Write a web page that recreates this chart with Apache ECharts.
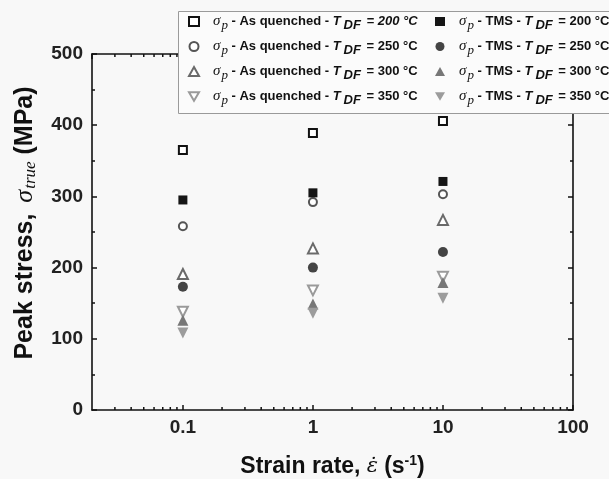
<!DOCTYPE html>
<html><head><meta charset="utf-8">
<script src="https://cdn.jsdelivr.net/npm/echarts@6/dist/echarts.min.js"></script>
<style>html,body{margin:0;padding:0;background:#f8f8f8}#c{width:609px;height:479px}</style>
</head><body><div id="c"></div>
<script>
const strainRates = [0.1, 1, 10];
const aq200 = [365, 389, 406];
const aq250 = [258, 292, 303];
const aq300 = [191, 227, 267];
const aq350 = [138, 168, 187];
const tms200 = [295, 305, 321];
const tms250 = [173, 200, 222];
const tms300 = [126, 149, 179];
const tms350 = [108, 136, 157];
const xMajorTicks = [0.1, 1, 10, 100];
const xMinorTicks = [0.03,0.04,0.05,0.06,0.07,0.08,0.09,0.2,0.3,0.4,0.5,0.6,0.7,0.8,0.9,2,3,4,5,6,7,8,9,20,30,40,50,60,70,80,90];
const yTicks = [0, 100, 200, 300, 400, 500];

const SANS = 'Liberation Sans';
const SERIF = 'Liberation Serif';
const DOWN_TRI = 'path://M0,0 L10,0 L5,8.66 Z';

const legendText = {
  'AQ200': '{s|σ}{sub|p}{n| - As quenched - }{i|T}{isub|DF}{i| = 200 °C}',
  'AQ250': '{s|σ}{sub|p}{n| - As quenched - }{i|T}{isub|DF}{n| = 250 °C}',
  'AQ300': '{s|σ}{sub|p}{n| - As quenched - }{i|T}{isub|DF}{n| = 300 °C}',
  'AQ350': '{s|σ}{sub|p}{n| - As quenched - }{i|T}{isub|DF}{n| = 350 °C}',
  'TMS200': '{s|σ}{sub|p}{n| - TMS - }{i|T}{isub|DF}{n| = 200 °C}',
  'TMS250': '{s|σ}{sub|p}{n| - TMS - }{i|T}{isub|DF}{n| = 250 °C}',
  'TMS300': '{s|σ}{sub|p}{n| - TMS - }{i|T}{isub|DF}{n| = 300 °C}',
  'TMS350': '{s|σ}{sub|p}{n| - TMS - }{i|T}{isub|DF}{n| = 350 °C}'
};
const legendRich = {
  s: {fontFamily: SERIF, fontStyle: 'italic', fontSize: 15, color: '#111', padding: [0, 0, 0, 9]},
  sub: {fontFamily: SERIF, fontStyle: 'italic', fontSize: 13, color: '#111', padding: [8, 0, 0, 1]},
  n: {fontFamily: SANS, fontWeight: 'bold', fontSize: 13, color: '#111'},
  i: {fontFamily: SANS, fontWeight: 'bold', fontStyle: 'italic', fontSize: 13, color: '#111'},
  isub: {fontFamily: SANS, fontWeight: 'bold', fontStyle: 'italic', fontSize: 13, color: '#111', padding: [8, 2, 0, 3]}
};

function pts(arr) { return strainRates.map((r, i) => [r, arr[i]]); }

function scatter(name, arr, symbol, size, fill, stroke) {
  return {
    name: name, type: 'scatter', data: pts(arr), symbol: symbol, symbolSize: size,
    itemStyle: {color: fill, borderColor: stroke, borderWidth: fill === '#ffffff' ? 2 : 0, opacity: 1},
    z: 5
  };
}

const chart = echarts.init(document.getElementById('c'), null, {renderer: 'canvas'});
const axisLine = {show: true, onZero: false, lineStyle: {color: '#111', width: 1.6}};
const tick = {show: true, inside: true, length: 5, lineStyle: {color: '#111', width: 1.5}};
const legendCommon = {
  orient: 'vertical', top: 14, z: 11, padding: 0,
  itemWidth: 10, itemHeight: 9, itemGap: 7,
  formatter: n => legendText[n],
  textStyle: {rich: legendRich}
};
const option = {
  backgroundColor: '#f8f8f8',
  animation: false,
  grid: {left: 92, right: 36, top: 54, bottom: 69, outerBoundsMode: 'none', containLabel: false},
  xAxis: [{
    type: 'log', logBase: 10, min: 0.02, max: 100, position: 'bottom',
    axisLine: axisLine, axisTick: tick,
    axisLabel: {showMinLabel: false, fontFamily: SANS, fontWeight: 'bold', fontSize: 19, color: '#222', margin: 8,
      formatter: v => (xMajorTicks.some(t => Math.abs(t - v) < 1e-9) ? String(v) : '')},
    splitLine: {show: false},
    name: '{n|Strain rate, }{e|ε̇}{n|(s}{sup|-1}{n|)}',
    nameLocation: 'middle', nameGap: 44,
    nameTextStyle: {rich: {
      n: {fontFamily: SANS, fontWeight: 'bold', fontSize: 23, color: '#111'},
      e: {fontFamily: 'DejaVu Serif', fontStyle: 'italic', fontSize: 21, color: '#111', padding: [0, 6, 0, 0]},
      sup: {fontFamily: SANS, fontWeight: 'bold', fontSize: 14, color: '#111', padding: [0, 0, 11, 0]}
    }}
  }, {
    type: 'log', logBase: 10, min: 0.02, max: 100, position: 'top',
    axisLine: axisLine, axisTick: tick,
    axisLabel: {show: false}, splitLine: {show: false}
  }],
  yAxis: [{
    type: 'value', min: 0, max: 500, interval: 100, position: 'left',
    axisLine: axisLine, axisTick: tick,
    minorTick: {show: true, splitNumber: 2, length: 3, lineStyle: {color: '#111', width: 1.5}},
    axisLabel: {fontFamily: SANS, fontWeight: 'bold', fontSize: 19, color: '#222', margin: 9},
    splitLine: {show: false},
    name: '{n|Peak stress, }{s|σ}{sub|true}{n| (MPa)}',
    nameLocation: 'middle', nameRotate: 90, nameGap: 53,
    nameTextStyle: {padding: [0, 0, 0, 18], rich: {
      n: {fontFamily: SANS, fontWeight: 'bold', fontSize: 25, color: '#111'},
      s: {fontFamily: SERIF, fontStyle: 'italic', fontSize: 26, color: '#111', padding: [0, 1, 0, 4]},
      sub: {fontFamily: SERIF, fontStyle: 'italic', fontSize: 17, color: '#111', padding: [11, 0, 0, 0]}
    }}
  }, {
    type: 'value', min: 0, max: 500, interval: 100, position: 'right',
    axisLine: axisLine, axisTick: tick,
    minorTick: {show: true, splitNumber: 2, length: 3, lineStyle: {color: '#111', width: 1.5}},
    axisLabel: {show: false}, splitLine: {show: false}
  }],
  graphic: [{
    type: 'rect', z: 10, left: 178, top: 11,
    shape: {width: 460, height: 102},
    style: {fill: '#fbfbfb', stroke: '#9a9a9a', lineWidth: 1}
  }],
  legend: [Object.assign({}, legendCommon, {
    left: 188,
    data: ['AQ200', 'AQ250', 'AQ300', 'AQ350']
  }), Object.assign({}, legendCommon, {
    left: 435,
    data: ['TMS200', 'TMS250', 'TMS300', 'TMS350']
  })],
  series: [
    scatter('AQ200', aq200, 'rect', 8, '#ffffff', '#111111'),
    scatter('AQ250', aq250, 'circle', 8, '#ffffff', '#555555'),
    scatter('AQ300', aq300, 'triangle', 10, '#ffffff', '#6a6a6a'),
    scatter('AQ350', aq350, DOWN_TRI, 10, '#ffffff', '#9a9a9a'),
    scatter('TMS200', tms200, 'rect', 9, '#151515'),
    scatter('TMS250', tms250, 'circle', 10, '#444444'),
    scatter('TMS300', tms300, 'triangle', 11, '#777777'),
    scatter('TMS350', tms350, DOWN_TRI, 11, '#9c9c9c'),
    {
      type: 'custom', name: 'minorTicks', silent: true, clip: false, z: 3,
      data: xMinorTicks.map(v => [v]),
      encode: {x: 0},
      renderItem: function (params, api) {
        const v = api.value(0);
        const b = api.coord([v, yTicks[0]]);
        const t = api.coord([v, yTicks[yTicks.length - 1]]);
        const st = {stroke: '#111', lineWidth: 1.5};
        return {type: 'group', children: [
          {type: 'line', shape: {x1: b[0], y1: b[1], x2: b[0], y2: b[1] - 3}, style: st},
          {type: 'line', shape: {x1: t[0], y1: t[1], x2: t[0], y2: t[1] + 3}, style: st}
        ]};
      }
    }
  ]
};
chart.setOption(option);
</script></body></html>
